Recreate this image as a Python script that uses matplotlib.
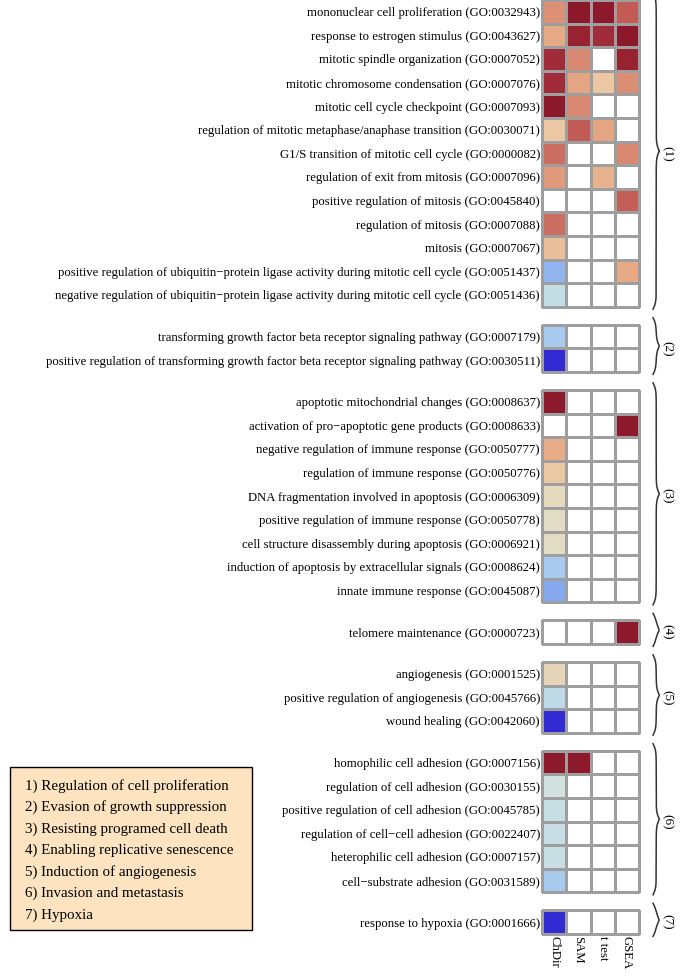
import numpy as np
import matplotlib
matplotlib.use("Agg")
import matplotlib.pyplot as plt
from matplotlib.colors import LinearSegmentedColormap
from matplotlib.patches import Rectangle

plt.rcParams['font.family'] = ['Liberation Serif', 'DejaVu Serif']

methods = ["ChDir", "SAM", "t test", "GSEA"]
nan = np.nan

# group 1: regulation of cell proliferation
terms_1 = ["mononuclear cell proliferation (GO:0032943)",
           "response to estrogen stimulus (GO:0043627)",
           "mitotic spindle organization (GO:0007052)",
           "mitotic chromosome condensation (GO:0007076)",
           "mitotic cell cycle checkpoint (GO:0007093)",
           "regulation of mitotic metaphase/anaphase transition (GO:0030071)",
           "G1/S transition of mitotic cell cycle (GO:0000082)",
           "regulation of exit from mitosis (GO:0007096)",
           "positive regulation of mitosis (GO:0045840)",
           "regulation of mitosis (GO:0007088)",
           "mitosis (GO:0007067)",
           "positive regulation of ubiquitin\u2212protein ligase activity during mitotic cell cycle (GO:0051437)",
           "negative regulation of ubiquitin\u2212protein ligase activity during mitotic cell cycle (GO:0051436)"]
vals_1 = [[0.68, 0.98, 0.97, 0.80],
          [0.62, 0.93, 0.89, 0.98],
          [0.89, 0.70, nan, 0.93],
          [0.89, 0.63, 0.55, 0.69],
          [0.98, 0.70, nan, nan],
          [0.55, 0.80, 0.63, nan],
          [0.76, nan, nan, 0.70],
          [0.66, nan, 0.60, nan],
          [nan, nan, nan, 0.79],
          [0.76, nan, nan, nan],
          [0.57, nan, nan, nan],
          [0.27, nan, nan, 0.62],
          [0.38, nan, nan, nan]]

# group 2: evasion of growth suppression
terms_2 = ["transforming growth factor beta receptor signaling pathway (GO:0007179)",
           "positive regulation of transforming growth factor beta receptor signaling pathway (GO:0030511)"]
vals_2 = [[0.32, nan, nan, nan],
          [0.02, nan, nan, nan]]

# group 3: resisting programmed cell death
terms_3 = ["apoptotic mitochondrial changes (GO:0008637)",
           "activation of pro\u2212apoptotic gene products (GO:0008633)",
           "negative regulation of immune response (GO:0050777)",
           "regulation of immune response (GO:0050776)",
           "DNA fragmentation involved in apoptosis (GO:0006309)",
           "positive regulation of immune response (GO:0050778)",
           "cell structure disassembly during apoptosis (GO:0006921)",
           "induction of apoptosis by extracellular signals (GO:0008624)",
           "innate immune response (GO:0045087)"]
vals_3 = [[0.97, nan, nan, nan],
          [nan, nan, nan, 0.97],
          [0.61, nan, nan, nan],
          [0.55, nan, nan, nan],
          [0.49, nan, nan, nan],
          [0.48, nan, nan, nan],
          [0.48, nan, nan, nan],
          [0.32, nan, nan, nan],
          [0.24, nan, nan, nan]]

# group 4: replicative senescence
terms_4 = ["telomere maintenance (GO:0000723)"]
vals_4 = [[nan, nan, nan, 0.97]]

# group 5: angiogenesis
terms_5 = ["angiogenesis (GO:0001525)",
           "positive regulation of angiogenesis (GO:0045766)",
           "wound healing (GO:0042060)"]
vals_5 = [[0.50, nan, nan, nan],
          [0.37, nan, nan, nan],
          [0.02, nan, nan, nan]]

# group 6: invasion and metastasis
terms_6 = ["homophilic cell adhesion (GO:0007156)",
           "regulation of cell adhesion (GO:0030155)",
           "positive regulation of cell adhesion (GO:0045785)",
           "regulation of cell\u2212cell adhesion (GO:0022407)",
           "heterophilic cell adhesion (GO:0007157)",
           "cell\u2212substrate adhesion (GO:0031589)"]
vals_6 = [[0.97, 0.97, nan, nan],
          [0.42, nan, nan, nan],
          [0.39, nan, nan, nan],
          [0.39, nan, nan, nan],
          [0.39, nan, nan, nan],
          [0.32, nan, nan, nan]]

# group 7: hypoxia
terms_7 = ["response to hypoxia (GO:0001666)"]
vals_7 = [[0.02, nan, nan, nan]]

group_tags = ["(1)", "(2)", "(3)", "(4)", "(5)", "(6)", "(7)"]
hallmarks = ["1) Regulation of cell proliferation",
             "2) Evasion of growth suppression",
             "3) Resisting programed cell death",
             "4) Enabling replicative senescence",
             "5) Induction of angiogenesis",
             "6) Invasion and metastasis",
             "7) Hypoxia"]

groups = [(terms_1, vals_1), (terms_2, vals_2), (terms_3, vals_3), (terms_4, vals_4),
          (terms_5, vals_5), (terms_6, vals_6), (terms_7, vals_7)]

cmap = LinearSegmentedColormap.from_list("score", [
    (0.00, "#2a1fcf"), (0.24, "#86a8ef"), (0.32, "#a9cbee"), (0.38, "#c3dde5"),
    (0.43, "#d3e2dc"), (0.48, "#e4dcc3"), (0.55, "#ebc7a3"), (0.62, "#e6aa86"),
    (0.70, "#d98a72"), (0.80, "#c25b55"), (0.89, "#a02b39"), (1.00, "#861428")])
cmap = cmap.with_extremes(bad="white")

gap = 0.763
n_total = sum(len(t) for t, _ in groups) + gap * (len(groups) - 1)

fig = plt.figure(figsize=(6.85, 9.8), dpi=100)
ax = fig.add_axes([542 / 685, 1 - 934 / 980, 97 / 685, 934 / 980])

yticks, ylabels, spans = [], [], []
y0 = 0.0
for terms, vals in groups:
    n = len(terms)
    mesh = ax.pcolormesh(np.arange(5), y0 + np.arange(n + 1), np.array(vals, dtype=float),
                         cmap=cmap, vmin=0, vmax=1, edgecolors="#9e9e9e", linewidth=0.8)
    mesh.set_clip_on(False)
    yticks += list(y0 + np.arange(n) + 0.5)
    ylabels += terms
    spans.append((y0, y0 + n))
    y0 += n + gap

ax.set_xlim(0, 4)
ax.set_ylim(n_total, 0)
ax.set_yticks(yticks)
ax.set_yticklabels(ylabels, fontsize=9.2)
ax.set_xticks(np.arange(4) + 0.5)
ax.set_xticklabels(methods, rotation=270, fontsize=9.2, va="top")
ax.tick_params(length=0, pad=1.5)
for s in ax.spines.values():
    s.set_visible(False)


def brace(ax, top, bottom, x0, w, beta=7.0):
    half = (bottom - top) / 2
    t = np.linspace(0, half, 200)
    xs = 1 / (1 + np.exp(-beta * t)) + 1 / (1 + np.exp(-beta * (t - half)))
    xs = np.concatenate([xs, xs[::-1]])
    ys = np.concatenate([top + t, bottom - t[::-1]])
    ax.plot(x0 + (xs - 0.5) * w, ys, color="#333333", lw=1.1, clip_on=False)


for (a, b), tag in zip(spans, group_tags):
    brace(ax, a - 0.3, b + 0.1, 4.58, 0.26)
    ax.text(5.15, (a + b) / 2, tag, rotation=270, ha="center", va="center",
            fontsize=9.5, clip_on=False)

# hallmark key box
fig.patches.append(Rectangle((10 / 685, 1 - 930 / 980), 242 / 685, 163 / 980,
                             transform=fig.transFigure, facecolor="#fde3bf",
                             edgecolor="black", lw=1))
for i, line in enumerate(hallmarks):
    fig.text(25 / 685, 1 - (786 + i * 21.5) / 980, line, fontsize=10.8,
             va="center", ha="left")

fig.savefig("out.png", dpi=100)
